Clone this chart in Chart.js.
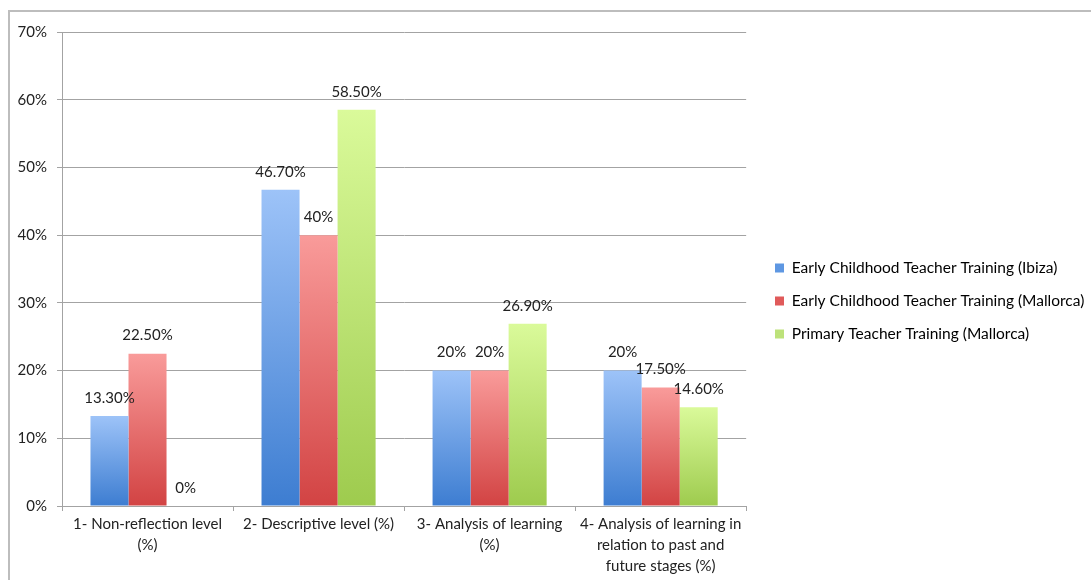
<!DOCTYPE html>
<html>
<head>
<meta charset="utf-8">
<script src="https://cdn.jsdelivr.net/npm/chart.js@4.4.1/dist/chart.umd.min.js"></script>
<style>
  html, body { margin: 0; padding: 0; background: #ffffff; overflow: hidden; }
  #wrap { position: relative; width: 1091px; height: 580px; }
  #frame { position: absolute; left: 8px; top: 10px; width: 1200px; height: 700px;
           border-left: 2px solid #bdbdbd; border-top: 2px solid #bdbdbd; box-sizing: border-box; }
  canvas { position: absolute; left: 0; top: 0; }
  .pre { font-family: Lato; position: absolute; visibility: hidden; }
</style>
</head>
<body>
<div id="wrap">
  <div id="frame"></div>
  <canvas id="c" width="1091" height="580"></canvas>
</div>
<span class="pre">Lato preload</span>
<script>
const categories = [
  ["1- Non-reflection level", "(%)"],
  ["2- Descriptive level (%)"],
  ["3- Analysis of learning", "(%)"],
  ["4- Analysis of learning in", "relation to past and", "future stages (%)"]
];
const seriesNames = [
  "Early Childhood Teacher Training (Ibiza)",
  "Early Childhood Teacher Training (Mallorca)",
  "Primary Teacher Training (Mallorca)"
];
const ibizaEC = [13.3, 46.7, 20, 20];
const mallorcaEC = [22.5, 40, 20, 17.5];
const mallorcaPrimary = [0, 58.5, 26.9, 14.6];
const ibizaECLabels = ["13.30%", "46.70%", "20%", "20%"];
const mallorcaECLabels = ["22.50%", "40%", "20%", "17.50%"];
const mallorcaPrimaryLabels = ["0%", "58.50%", "26.90%", "14.60%"];
const yTicks = [0, 10, 20, 30, 40, 50, 60, 70];

const FONT = "Lato, 'Open Sans', sans-serif";
const FSIZE = 15;
const LSIZE = 15.5;
const TEXT = "#222222";

function barGradient(top, bottom) {
  return function(ctx) {
    const chart = ctx.chart;
    const area = chart.chartArea;
    if (!area || ctx.type !== 'data') return bottom;
    const ys = chart.scales.y;
    const v = ctx.raw;
    const yTop = ys.getPixelForValue(v);
    const yBase = ys.getPixelForValue(0);
    if (!isFinite(yTop) || yBase - yTop < 1) return bottom;
    const g = chart.ctx.createLinearGradient(0, yTop, 0, yBase);
    g.addColorStop(0, top);
    g.addColorStop(1, bottom);
    return g;
  };
}

const legendColors = ["#5e97e2", "#e05a5a", "#bde27a"];

const valueLabels = {
  id: 'valueLabels',
  afterDatasetsDraw(chart) {
    const ctx = chart.ctx;
    ctx.save();
    ctx.font = FSIZE + "px " + FONT;
    ctx.fillStyle = TEXT;
    ctx.textAlign = 'center';
    ctx.textBaseline = 'middle';
    chart.data.datasets.forEach((ds, di) => {
      const meta = chart.getDatasetMeta(di);
      meta.data.forEach((el, i) => {
        ctx.fillText(ds.valueLabels[i], el.x, el.y - 18);
      });
    });
    ctx.restore();
  }
};

// nudge the legend box (drawn by Chart.js) to the reference position
const legendNudge = {
  id: 'legendNudge',
  afterLayout(chart) {
    const lg = chart.legend;
    if (!lg) return;
    const targetLeft = 775 - 17.5, dy = -5;
    const dx = targetLeft - lg.left;
    lg.left += dx; lg.right += dx;
    lg.top += dy; lg.bottom += dy;
    if (lg.legendHitBoxes) lg.legendHitBoxes.forEach(h => { h.left += dx; h.top += dy; });
  }
};

function build() {
  new Chart(document.getElementById('c'), {
    type: 'bar',
    data: {
      labels: categories,
      datasets: [
        { label: seriesNames[0], data: ibizaEC, valueLabels: ibizaECLabels,
          backgroundColor: barGradient("#9dc3f8", "#3d7dd1") },
        { label: seriesNames[1], data: mallorcaEC, valueLabels: mallorcaECLabels,
          backgroundColor: barGradient("#f99b9a", "#d24343") },
        { label: seriesNames[2], data: mallorcaPrimary, valueLabels: mallorcaPrimaryLabels,
          backgroundColor: barGradient("#dafa9a", "#9ecb4e") }
      ]
    },
    options: {
      responsive: false,
      animation: false,
      devicePixelRatio: 1,
      categoryPercentage: 0.667,
      barPercentage: 1.0,
      layout: { padding: { top: 32, right: 8, bottom: 0, left: 0 } },
      plugins: {
        tooltip: { enabled: false },
        legend: {
          position: 'right',
          maxWidth: 420,
          labels: {
            boxWidth: 9, boxHeight: 9, padding: 17.5,
            color: TEXT,
            font: { family: FONT, size: LSIZE },
            generateLabels(chart) {
              return chart.data.datasets.map((ds, i) => ({
                text: ds.label, fillStyle: legendColors[i], strokeStyle: legendColors[i],
                lineWidth: 0, hidden: false, datasetIndex: i
              }));
            }
          }
        }
      },
      scales: {
        x: {
          afterFit(scale) { scale.height = 74; },
          grid: { display: true, drawOnChartArea: false, drawTicks: true, tickLength: 5, color: "#a3a3a3", offset: true },
          border: { display: true, color: "#a3a3a3", width: 1 },
          ticks: { color: TEXT, font: { family: FONT, size: FSIZE, lineHeight: 1.4 }, padding: 3, maxRotation: 0, autoSkip: false }
        },
        y: {
          min: 0, max: 70,
          afterBuildTicks(scale) { scale.ticks = yTicks.map(v => ({ value: v })); },
          afterFit(scale) { scale.width = 62; },
          grid: { color: "#a3a3a3", lineWidth: 1, drawTicks: true, tickLength: 5 },
          border: { display: true, color: "#a3a3a3", width: 1 },
          ticks: { color: TEXT, font: { family: FONT, size: FSIZE }, padding: 10,
                   callback: v => v + "%" }
        }
      }
    },
    plugins: [valueLabels, legendNudge]
  });
}

if (document.fonts && document.fonts.load) {
  document.fonts.load(FSIZE + "px Lato").then(build, build);
} else { build(); }
</script>
</body>
</html>
